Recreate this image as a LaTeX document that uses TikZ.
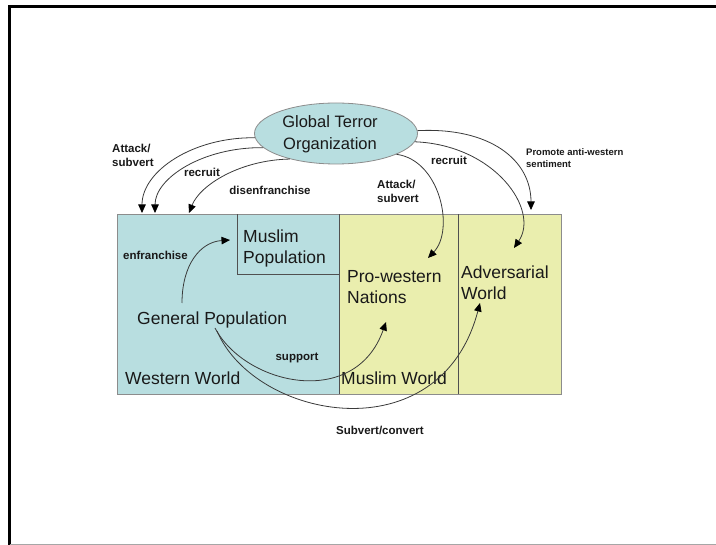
\documentclass[tikz,border=0pt]{standalone}
\usepackage{fontspec}
\setmainfont{Liberation Sans}
\usetikzlibrary{shapes.geometric,arrows.meta}
\definecolor{wblue}{HTML}{B8DEE0}
\definecolor{myellow}{HTML}{EAEEAE}
\definecolor{edgegray}{HTML}{8C8C8C}
\definecolor{divgray}{HTML}{505050}
\definecolor{linkgray}{HTML}{3A3A3A}
\begin{document}
\begin{tikzpicture}[x=1pt,y=-1pt,
  region/.style={draw=edgegray,line width=0.8pt,anchor=north west,inner sep=0pt,outer sep=0pt},
  big/.style={font=\fontsize{17.5}{21}\selectfont,inner sep=0pt,align=left,text=black!90},
  lbl/.style={font=\bfseries\fontsize{11.5}{14}\selectfont,inner sep=0pt,align=left,text=black!90},
  arr/.style={draw=linkgray,line width=0.8pt,-{Triangle[length=8.5pt,width=7.5pt,color=black]}},
]
\useasboundingbox (0,0) rectangle (716,545);
% page frame
\draw[line width=3pt,black] (9.5,545) -- (9.5,6.5) -- (716,6.5);
\draw[line width=1.2pt,gray!70] (9.5,544.4) -- (716,544.4);

% regions
\node[region,fill=wblue,minimum width=221.5pt,minimum height=180pt] (ww) at (117.5,214.5) {};
\node[region,fill=myellow,minimum width=119.5pt,minimum height=180pt] (mw) at (339,214.5) {};
\node[region,fill=myellow,minimum width=102.5pt,minimum height=180pt] (aw) at (458.5,214.5) {};
\draw[divgray,line width=0.8pt] (mw.north west) -- (mw.south west);
\draw[divgray,line width=0.8pt] (aw.north west) -- (aw.south west);
\coordinate (mpc) at (237,274.5);
\draw[divgray,line width=0.8pt] (237,214.5) -- (mpc) -- (339,274.5);

% organisation
\node[ellipse,draw=edgegray,line width=0.8pt,fill=wblue,minimum width=163pt,minimum height=61pt,inner sep=0pt] (gto) at (336,133.5) {};
\node[big,align=center,font=\fontsize{16.5}{22}\selectfont] (gtotext) at (330,134) {Global Terror\\Organization};

% region texts (base = baseline of the last line)
\node[big,anchor=base west] (mp) at (243,263.5) {Muslim\\Population};
\node[big,anchor=base west] (gp) at (137,325) {General Population};
\node[big,anchor=base west] (wwt) at (125,385) {Western World};
\node[big,anchor=base west] (pw) at (347,303.5) {Pro-western\\Nations};
\node[big,anchor=base west] (adv) at (461,300) {Adversarial\\World};
\node[big,anchor=base west] (mwt) at (341,385) {Muslim World};

% link labels
\node[lbl,anchor=west] (l1) at (112,155) {Attack/\\subvert};
\node[lbl] (l2) at (202,172) {recruit};
\node[lbl] (l3) at (270,190) {disenfranchise};
\node[lbl,anchor=west] (l4) at (377,191) {Attack/\\subvert};
\node[lbl] (l5) at (449,160) {recruit};
\node[lbl,anchor=west,font=\bfseries\fontsize{9.5}{12}\selectfont] (l6) at (526,158) {Promote anti-western\\sentiment};
\node[lbl] (l7) at (155.5,255) {enfranchise};
\node[lbl] (l8) at (297,358) {support};
\node[lbl] (l9) at (380,430) {Subvert/convert};

% arrow ends
\coordinate (t1) at (142,213);
\coordinate (t2) at (155,213);
\coordinate (t3) at (189,213);
\coordinate (t4) at (428,258);
\coordinate (t5) at (514,248);
\coordinate (t6) at (531,210);
\coordinate (t7) at (230,240);
\coordinate (t8) at (386,322);
\coordinate (t9) at (480,303);
\coordinate (s7) at (182,303);
\coordinate (s8) at (215,328);
\coordinate (s9) at (217,331);

% links
\draw[arr] (gto.183) .. controls (193,137) and (142,171) .. (t1);
\draw[arr] (gto.191) .. controls (203,147) and (155,178) .. (t2);
\draw[arr] (gto.209) .. controls (240,160) and (200,185) .. (t3);
\draw[arr] (gto.341) .. controls (440,160) and (455,230) .. (t4);
\draw[arr] (gto.354) .. controls (495,145) and (540,210) .. (t5);
\draw[arr] (gto.2) .. controls (490,127) and (531,160) .. (t6);
\draw[arr] (s7) .. controls (182,265) and (200,242) .. (t7);
\draw[arr] (s8) .. controls (245,385) and (355,410) .. (t8);
\draw[arr] (s9) .. controls (255,420) and (440,455) .. (t9);
\end{tikzpicture}
\end{document}
